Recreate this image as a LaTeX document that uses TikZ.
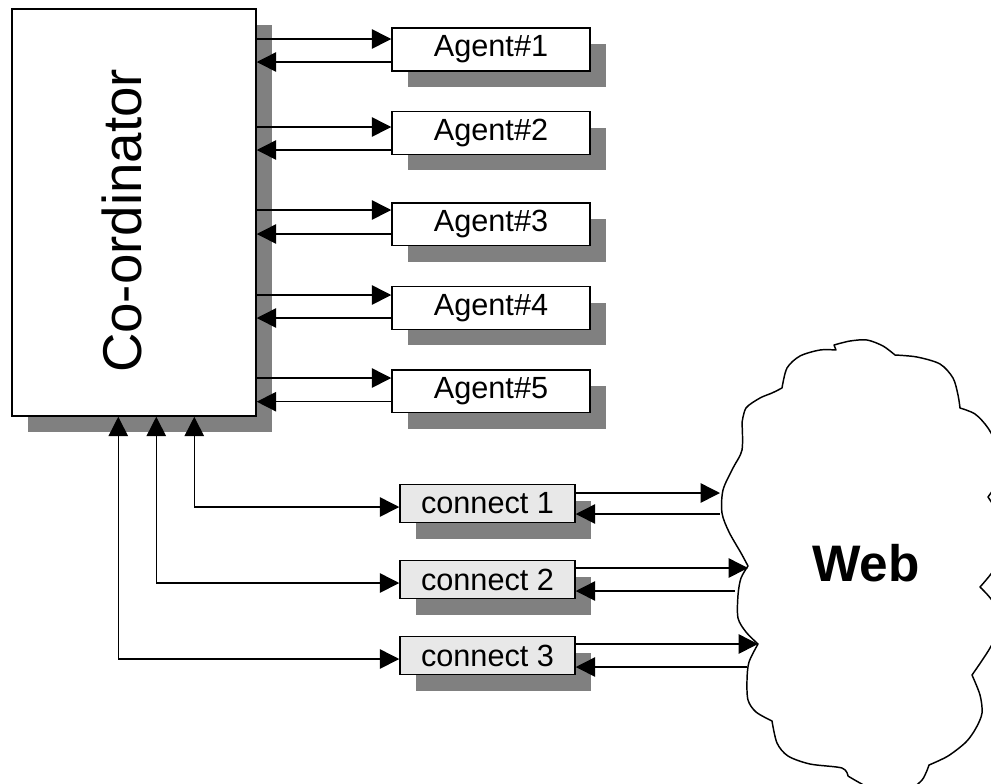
\documentclass[tikz,border=0pt]{standalone}
\usepackage{fontspec}
\setmainfont{Liberation Sans}
\usetikzlibrary{arrows.meta,shadows,calc}
\definecolor{shadowgray}{RGB}{128,128,128}
\definecolor{connfill}{gray}{0.91}

\begin{document}
\begin{tikzpicture}[x=0.75pt,y=-0.75pt,
  boxshadow/.style={drop shadow={shadow xshift=12pt,shadow yshift=-12pt,fill=shadowgray,opacity=1}},
  basebox/.style={draw,line width=1.1pt,inner sep=0pt,boxshadow},
  agentbox/.style={basebox,fill=white,minimum width=148.5pt,minimum height=32pt,
    font=\fontsize{23}{27}\selectfont},
  connbox/.style={basebox,fill=connfill,minimum width=131.25pt,minimum height=28.5pt,
    font=\fontsize{23}{27}\selectfont},
  arr/.style={line width=1.1pt,-{Triangle[length=14.5pt,width=14.5pt]}},
  darr/.style={line width=1.1pt,{Triangle[length=14.5pt,width=14.5pt]}-{Triangle[length=14.5pt,width=14.5pt]}},
  cloudline/.style={line width=1.1pt,line join=round}]
\useasboundingbox (0,0) rectangle (991,783);

% co-ordinator
\node[basebox,fill=white,minimum width=183pt,minimum height=305.25pt] (co) at (134,212.5) {};
\node[rotate=90,font=\fontsize{41}{48}\selectfont] (colabel) at (122,221) {Co-ordinator};

% agents
\node[agentbox] (a1) at (491,49.5) {Agent\#1};
\node[agentbox] (a2) at (491,133) {Agent\#2};
\node[agentbox] (a3) at (491,224.3) {Agent\#3};
\node[agentbox] (a4) at (491,308) {Agent\#4};
\node[agentbox] (a5) at (491,391.3) {Agent\#5};

% connection handlers
\node[connbox] (c1) at (487.5,503.5) {connect 1};
\node[connbox] (c2) at (487.5,579.5) {connect 2};
\node[connbox] (c3) at (487.5,655.5) {connect 3};

% the web cloud
\begin{scope}
\clip (0,0) rectangle (991,783);
\draw[cloudline]
  plot[smooth] coordinates {(782,388) (787,368) (800,356) (820,350) (836,350)}
  -- (834,345)
  -- plot[smooth] coordinates {(834,345) (850,341) (867,340) (883,346) (895,355)}
  -- plot[smooth] coordinates {(895,355) (917,357) (940,364) (953,378) (958,395) (960,408)}
  -- plot[smooth] coordinates {(960,408) (975,414) (988,428) (999,450) (1001,475) (988,497)}
  -- plot[smooth] coordinates {(988,497) (998,515) (1002,545) (995,568) (980,587)}
  -- plot[smooth] coordinates {(980,587) (993,602) (1000,625) (990,648) (972,675)}
  -- plot[smooth] coordinates {(972,675) (980,695) (982,713) (976,728) (966,742) (948,756) (929,765)}
  -- plot[smooth] coordinates {(929,765) (922,780) (905,792) (880,793) (860,783) (848,776)}
  -- plot[smooth] coordinates {(848,776) (842,768) (810,764) (788,756) (777,743) (772,721)}
  -- plot[smooth] coordinates {(772,721) (756,712) (748,700) (747,680) (749,662) (758,644)}
  -- plot[smooth] coordinates {(758,644) (746,632) (738,618) (738,595) (741,578) (748,566)}
  -- plot[smooth] coordinates {(748,566) (741,553) (729,532) (722,513) (723,490) (733,468) (742,450) (742,423)}
  -- plot[smooth] coordinates {(742,423) (746,408) (760,398) (772,393) (782,388)};
\end{scope}
\node[font=\fontsize{38.5}{44}\selectfont\bfseries] (web) at (866,563) {Web};

% points where the links meet the cloud
\coordinate (w1in) at (720,493);  \coordinate (w1out) at (720,514);
\coordinate (w2in) at (748,568);  \coordinate (w2out) at (735,591);
\coordinate (w3in) at (758,644);  \coordinate (w3out) at (747,667);

% co-ordinator <-> agents
\foreach \n/\r/\l in {1/-10.5/12.5, 2/-6/17, 3/-14.3/9.7, 4/-13/10, 5/-13.3/10.4} {
  \path ($(a\n.west)+(0,\r)$) coordinate (ai\n);
  \path ($(a\n.west)+(0,\l)$) coordinate (ao\n);
  \draw[arr] (co.east |- ai\n) -- (ai\n);
  \draw[arr] (ao\n) -- (co.east |- ao\n);
}

% co-ordinator <-> connection handlers
\foreach \n/\dx in {1/-205, 2/-243, 3/-281} {
  \path ($(c\n.west)+(\dx,3.5)$) coordinate (k\n);
  \draw[darr] (co.south -| k\n) -- (k\n) -- (c\n.west |- k\n);
}

% connection handlers <-> web
\foreach \n/\r/\l in {1/-10.5/10.5, 2/-11.5/11.5, 3/-11.5/11.5} {
  \path ($(c\n.east)+(0,\r)$) coordinate (ci\n);
  \path ($(c\n.east)+(0,\l)$) coordinate (co\n);
  \draw[arr] (ci\n) -- (ci\n -| w\n in);
  \draw[arr] (co\n -| w\n out) -- (co\n);
}
\end{tikzpicture}
\end{document}
